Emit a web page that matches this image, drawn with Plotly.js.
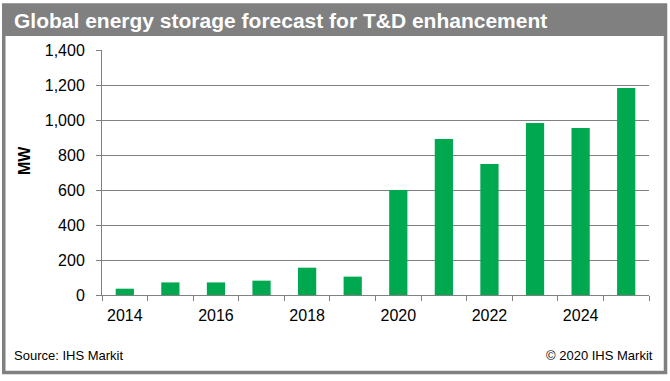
<!DOCTYPE html>
<html>
<head>
<meta charset="utf-8">
<script src="https://cdn.plot.ly/plotly-3.0.1.min.js"></script>
<style>
html,body{margin:0;padding:0;background:#fff;}
#chart{width:670px;height:381px;}
</style>
</head>
<body>
<div id="chart"></div>
<script>
const years = ["2014","2015","2016","2017","2018","2019","2020","2021","2022","2023","2024","2025"];
const storageMW = [36, 72, 72, 82, 156, 105, 600, 891, 749, 983, 954, 1183];
const xTickText = ["2014","","2016","","2018","","2020","","2022","","2024",""];
const yTickVals = [0, 200, 400, 600, 800, 1000, 1200, 1400];
const chartTitle = "Global energy storage forecast for T&D enhancement";
const yTitle = "MW";
const sourceText = "Source: IHS Markit";
const copyrightText = "© 2020 IHS Markit";

// pixel -> paper helpers (plot area: x 102..649, y 50..295)
const L = 102, R = 649, T = 50, B = 295;
const px = v => (v - L) / (R - L);
const py = v => (B - v) / (B - T);

const grey = "#808080";
const font = "Liberation Sans, Arial, sans-serif";

const trace = {
  type: "bar",
  x: years,
  y: storageMW,
  marker: {color: "#00A94F"},
  hoverinfo: "x+y"
};

const layout = {
  width: 670, height: 381,
  margin: {l: L, r: 670 - R, t: T, b: 381 - B, pad: 0},
  paper_bgcolor: "#fff",
  plot_bgcolor: "#fff",
  bargap: 0.6,
  showlegend: false,
  font: {family: font, color: "#000"},
  xaxis: {
    type: "category",
    range: [-0.5, 11.5],
    tickvals: years,
    ticktext: xTickText,
    tickson: "boundaries",
    ticks: "outside",
    ticklen: 5,
    tickcolor: grey,
    showline: true,
    linecolor: grey,
    linewidth: 1,
    showgrid: false,
    zeroline: false,
    tickfont: {family: font, size: 16, color: "#000"},
    ticklabelstandoff: 6
  },
  yaxis: {
    range: [0, 1400],
    tickvals: yTickVals,
    tickformat: ",d",
    ticks: "outside",
    ticklen: 5,
    tickcolor: grey,
    showline: true,
    linecolor: grey,
    linewidth: 1,
    showgrid: true,
    gridcolor: grey,
    gridwidth: 1,
    zeroline: false,
    tickfont: {family: font, size: 16, color: "#000"},
    ticklabelstandoff: 8
  },
  shapes: [
    {type: "rect", xref: "paper", yref: "paper",
     x0: px(2), x1: px(667), y0: py(4), y1: py(36),
     fillcolor: grey, line: {width: 0}, layer: "below"},
    {type: "rect", xref: "paper", yref: "paper",
     x0: px(3.75), x1: px(665.5), y0: py(372.5), y1: py(5),
     fillcolor: "rgba(0,0,0,0)", line: {color: grey, width: 3.5}, layer: "below"}
  ],
  annotations: [
    {text: "<b>" + chartTitle.replace("&", "&amp;") + "</b>", xref: "paper", yref: "paper",
     x: px(12), y: py(20), xanchor: "left", yanchor: "middle", showarrow: false,
     font: {family: font, size: 21, color: "#fff"}},
    {text: "<b>" + yTitle + "</b>", xref: "paper", yref: "paper",
     x: px(24), y: py(161), xanchor: "center", yanchor: "middle", textangle: -90,
     showarrow: false, font: {family: font, size: 16, color: "#000"}},
    {text: sourceText, xref: "paper", yref: "paper",
     x: px(12), y: py(356), xanchor: "left", yanchor: "middle", showarrow: false,
     font: {family: font, size: 13, color: "#000"}},
    {text: copyrightText, xref: "paper", yref: "paper",
     x: px(655), y: py(356), xanchor: "right", yanchor: "middle", showarrow: false,
     font: {family: font, size: 13, color: "#000"}}
  ]
};

Plotly.newPlot("chart", [trace], layout, {displayModeBar: false, staticPlot: true});
</script>
</body>
</html>
